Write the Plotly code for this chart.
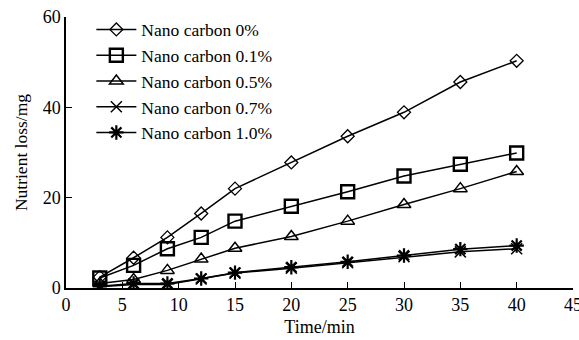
import plotly.graph_objects as go

time_min = [3, 6, 9, 12, 15, 20, 25, 30, 35, 40]
nc_0 = [2.4, 6.7, 11.2, 16.5, 22.0, 27.8, 33.6, 38.9, 45.6, 50.3]
nc_01 = [2.2, 5.0, 8.7, 11.2, 14.8, 18.1, 21.3, 24.8, 27.4, 29.9]
nc_05 = [1.0, 1.9, 3.9, 6.4, 8.8, 11.4, 14.8, 18.5, 22.0, 25.8]
nc_07 = [0.3, 0.8, 0.8, 2.0, 3.3, 4.4, 5.6, 6.9, 8.0, 8.7]
nc_10 = [0.4, 1.0, 1.0, 2.1, 3.4, 4.6, 5.8, 7.2, 8.6, 9.4]

names = ["Nano carbon 0%", "Nano carbon 0.1%", "Nano carbon 0.5%",
         "Nano carbon 0.7%", "Nano carbon 1.0%"]
series = [nc_0, nc_01, nc_05, nc_07, nc_10]
symbols = ["diamond-open", "square-open", "triangle-up-open", "x-thin-open", "asterisk-open"]
sizes = [10, 13, 12, 11, 12]
mlw = [1.3, 2.4, 1.5, 1.5, 2.2]

FONT = "Liberation Serif"

fig = go.Figure()
for n, s, sym, sz, w in zip(names, series, symbols, sizes, mlw):
    fig.add_trace(go.Scatter(
        x=time_min, y=s, name=n, mode="lines+markers",
        line=dict(color="black", width=1.5),
        marker=dict(symbol=sym, size=sz, color="black",
                    line=dict(color="black", width=w)),
    ))

fig.update_layout(
    width=579, height=340,
    margin=dict(l=66, r=6, t=17, b=52),
    paper_bgcolor="white", plot_bgcolor="white",
    font=dict(family=FONT, size=18, color="black"),
    showlegend=True,
    legend=dict(x=0.05, y=1.02, xanchor="left", yanchor="top",
                bgcolor="rgba(0,0,0,0)", font=dict(family=FONT, size=17.5),
                tracegroupgap=0, itemwidth=40),
)
fig.update_xaxes(
    range=[0, 45], dtick=5, tick0=0, ticks="inside", ticklen=6,
    tickwidth=1.2, tickcolor="black", showline=True, linecolor="black",
    linewidth=1.5, showgrid=False, zeroline=False, mirror=False,
    title=dict(text="Time/min", font=dict(family=FONT, size=18), standoff=6),
    tickfont=dict(family=FONT, size=18), automargin=False,
    ticklabeloverflow="allow",
)
fig.update_yaxes(
    range=[0, 60], dtick=20, tick0=0, ticks="inside", ticklen=6,
    tickwidth=1.2, tickcolor="black", showline=True, linecolor="black",
    linewidth=1.5, showgrid=False, zeroline=False, mirror=False,
    title=dict(text="Nutrient loss/mg", font=dict(family=FONT, size=17.5), standoff=11),
    tickfont=dict(family=FONT, size=18), automargin=False,
    ticklabeloverflow="allow",
)

fig.write_html("out.html")
